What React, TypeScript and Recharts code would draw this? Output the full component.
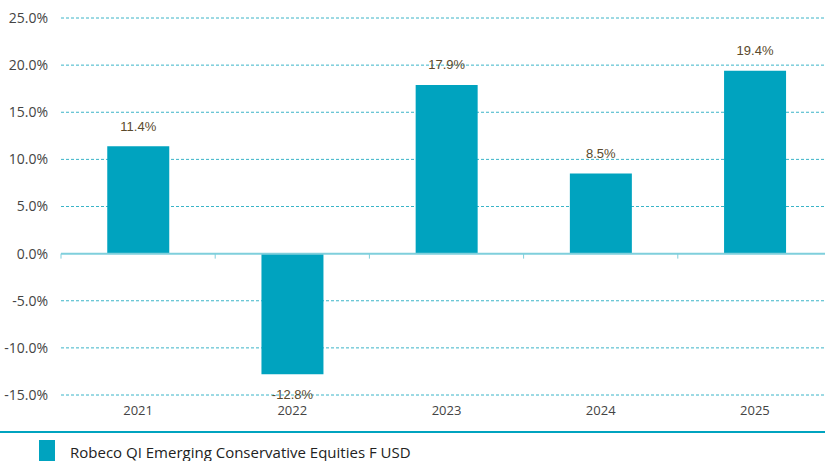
import React from "react";
import {
  BarChart,
  Bar,
  XAxis,
  YAxis,
  CartesianGrid,
  ReferenceLine,
  LabelList,
  Legend,
} from "recharts";

const years = ["2021", "2022", "2023", "2024", "2025"];
const returns = [11.4, -12.8, 17.9, 8.5, 19.4];
const yTicks = [-15, -10, -5, 0, 5, 10, 15, 20, 25];
const seriesName = "Robeco QI Emerging Conservative Equities F USD";

const data = years.map((year, i) => ({ year, value: returns[i] }));

const TEAL = "#00a3bf";
const GRID = "#3bb4c8";
const FONT = "'Open Sans', sans-serif";

const fmt = (v: number) => `${v.toFixed(1)}%`;

// zero line with small tick marks at the category boundaries
const ZeroLine = (props: any) => {
  const { x1, x2, y1 } = props;
  if (x1 == null) return null;
  const step = (x2 - x1) / years.length;
  const ticks = [];
  for (let i = 0; i <= years.length; i++) {
    const x = x1 + step * i;
    ticks.push(
      <line key={i} x1={x} x2={x} y1={y1} y2={y1 + 5} stroke="#7fcfdc" strokeWidth={1} />
    );
  }
  return (
    <g>
      <line x1={x1} x2={x2} y1={y1} y2={y1} stroke="#7fcfdc" strokeWidth={2} />
      {ticks}
    </g>
  );
};

const ValueLabel = (props: any) => {
  const { x, y, width, height, value } = props;
  const top = Math.min(y, y + height);
  const bottom = Math.max(y, y + height);
  const cy = value >= 0 ? top - 20 : bottom + 20;
  return (
    <text
      x={x + width / 2}
      y={cy}
      textAnchor="middle"
      dominantBaseline="central"
      fill="#5a4a2c"
      fontSize={13}
      fontFamily="'Liberation Sans', Arial, sans-serif"
    >
      {fmt(value)}
    </text>
  );
};

const LegendBox = () => (
  <div
    style={{
      borderTop: `2px solid ${TEAL}`,
      height: 28,
      position: "relative",
      fontFamily: FONT,
    }}
  >
    <div
      style={{
        position: "absolute",
        left: 39,
        top: 7,
        width: 16,
        height: 24,
        background: TEAL,
      }}
    />
    <div
      style={{
        position: "absolute",
        left: 70,
        top: 9,
        fontSize: 15,
        lineHeight: "20px",
        color: "#222",
        whiteSpace: "nowrap",
      }}
    >
      {seriesName}
    </div>
  </div>
);

export default function App() {
  return (
    <div
      style={{
        position: "fixed",
        left: 0,
        top: 0,
        width: 825,
        height: 461,
        overflow: "hidden",
        background: "#fff",
      }}
    >
      <BarChart
        width={832}
        height={461}
        data={data}
        margin={{ top: 18, right: 0, bottom: 0, left: 0 }}
        barCategoryGap="30%"
      >
        <CartesianGrid
          vertical={false}
          stroke={GRID}
          strokeDasharray="3 2"
          horizontalValues={yTicks.filter((t) => t !== 0)}
        />
        <XAxis
          dataKey="year"
          axisLine={false}
          tickLine={false}
          tickMargin={5}
          height={36}
          tick={{ fill: "#444", fontSize: 13, fontFamily: FONT }}
        />
        <YAxis
          width={61}
          domain={[-15, 25]}
          ticks={yTicks}
          axisLine={false}
          tickLine={false}
          tickMargin={7}
          tickFormatter={fmt}
          tick={{ fill: "#444", fontSize: 14, fontFamily: FONT }}
        />
        <ReferenceLine y={0} shape={ZeroLine} />
        <Bar dataKey="value" name={seriesName} fill={TEAL} isAnimationActive={false}>
          <LabelList dataKey="value" content={ValueLabel} />
        </Bar>
        <Legend
          verticalAlign="bottom"
          content={LegendBox}
          wrapperStyle={{ left: 0, width: 832 }}
        />
      </BarChart>
    </div>
  );
}
